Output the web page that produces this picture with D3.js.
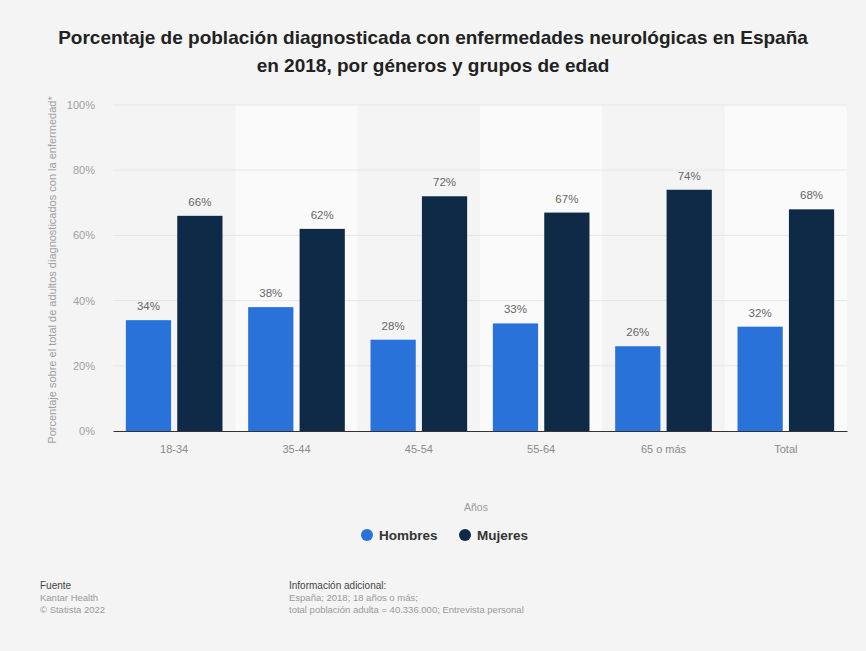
<!DOCTYPE html>
<html>
<head>
<meta charset="utf-8">
<script src="https://cdn.jsdelivr.net/npm/d3@7"></script>
<style>
  body { margin: 0; background: #f4f4f4; }
  svg { display: block; font-family: "Liberation Sans", Arial, sans-serif; }
</style>
</head>
<body>
<div id="chart"></div>
<script>
const grupos = ["18-34", "35-44", "45-54", "55-64", "65 o más", "Total"];
const hombres = [34, 38, 28, 33, 26, 32];
const mujeres = [66, 62, 72, 67, 74, 68];
const series = ["Hombres", "Mujeres"];
const yTicks = [0, 20, 40, 60, 80, 100];

const W = 866, H = 651;
const colors = { Hombres: "#2872d9", Mujeres: "#0f2a46" };
const m = { left: 113, right: 19, top: 105, bottom: 220 };

const svg = d3.select("#chart").append("svg")
    .attr("width", W)
    .attr("height", H);

svg.append("rect")
    .attr("width", W)
    .attr("height", H)
    .attr("fill", "#f4f4f4");

const x = d3.scaleBand()
    .domain(grupos)
    .range([m.left, W - m.right]);

const x1 = d3.scaleBand()
    .domain(series)
    .range([0, x.bandwidth()])
    .paddingOuter(0.25)
    .paddingInner(0.12);

const y = d3.scaleLinear()
    .domain([0, 100])
    .range([H - m.bottom, m.top]);

// alternating column bands
svg.append("g")
    .selectAll("rect")
    .data(grupos.filter((d, i) => i % 2 == 1))
    .enter()
    .append("rect")
    .attr("x", d => x(d))
    .attr("y", y(100))
    .attr("width", x.bandwidth())
    .attr("height", y(0) - y(100))
    .attr("fill", "#fafafa");

// gridlines
svg.append("g")
    .selectAll("line")
    .data(yTicks.slice(1))
    .enter()
    .append("line")
    .attr("x1", m.left)
    .attr("x2", W - m.right)
    .attr("y1", d => y(d))
    .attr("y2", d => y(d))
    .attr("stroke", "#e6e6e6")
    .attr("stroke-width", 1);

// y axis labels
const yAxis = svg.append("g")
    .attr("transform", `translate(${m.left - 15},0)`)
    .call(d3.axisLeft(y).tickValues(yTicks).tickFormat(d => d + "%").tickSize(0));
yAxis.select(".domain").remove();
yAxis.selectAll("text")
    .attr("fill", "#a0a0a0")
    .style("font-size", "11px");

// y axis title
svg.append("text")
    .attr("transform", `translate(56,${(y(0) + y(100)) / 2 + 2}) rotate(-90)`)
    .attr("text-anchor", "middle")
    .attr("fill", "#a0a0a0")
    .style("font-size", "11px")
    .text("Porcentaje sobre el total de adultos diagnosticados con la enfermedad*");

// bars
const rows = grupos.map((g, i) => ({ grupo: g, Hombres: hombres[i], Mujeres: mujeres[i] }));

const groups = svg.append("g")
    .selectAll("g")
    .data(rows)
    .enter()
    .append("g")
    .attr("transform", d => `translate(${x(d.grupo)},0)`);

groups.selectAll("rect")
    .data(d => series.map(s => ({ key: s, value: d[s] })))
    .enter()
    .append("rect")
    .attr("x", d => x1(d.key))
    .attr("y", d => y(d.value))
    .attr("width", x1.bandwidth())
    .attr("height", d => y(0) - y(d.value))
    .attr("fill", d => colors[d.key]);

groups.selectAll("text")
    .data(d => series.map(s => ({ key: s, value: d[s] })))
    .enter()
    .append("text")
    .attr("x", d => x1(d.key) + x1.bandwidth() / 2)
    .attr("y", d => y(d.value) - 10)
    .attr("text-anchor", "middle")
    .attr("fill", "#666")
    .style("font-size", "11.5px")
    .text(d => d.value + "%");

// x axis
const xAxis = svg.append("g")
    .attr("transform", `translate(0,${y(0)})`)
    .call(d3.axisBottom(x).tickSize(0).tickPadding(14));
xAxis.select(".domain")
    .attr("stroke", "#333")
    .attr("stroke-width", 1);
xAxis.selectAll("text")
    .attr("fill", "#8a8a8a")
    .style("font-size", "11px");

// title
const title = svg.append("text")
    .attr("text-anchor", "middle")
    .attr("fill", "#222")
    .style("font-size", "19px")
    .style("font-weight", "bold");
title.append("tspan").attr("x", W / 2).attr("y", 44)
    .text("Porcentaje de población diagnosticada con enfermedades neurológicas en España");
title.append("tspan").attr("x", W / 2).attr("y", 72)
    .text("en 2018, por géneros y grupos de edad");

// x title
svg.append("text")
    .attr("x", 476)
    .attr("y", 511)
    .attr("text-anchor", "middle")
    .attr("fill", "#9a9a9a")
    .style("font-size", "10.5px")
    .text("Años");

// legend
const legendX = [367, 465];
const legend = svg.append("g")
    .selectAll("g")
    .data(series)
    .enter()
    .append("g")
    .attr("transform", (d, i) => `translate(${legendX[i]},535)`);
legend.append("circle")
    .attr("r", 6)
    .attr("fill", d => colors[d]);
legend.append("text")
    .attr("x", 12)
    .attr("y", 5)
    .attr("fill", "#333")
    .style("font-size", "13.5px")
    .style("font-weight", "bold")
    .text(d => d);

// footer
const footL = ["Kantar Health", "© Statista 2022"];
const footR = ["España; 2018; 18 años o más;", "total población adulta = 40.336.000; Entrevista personal"];

svg.append("text")
    .attr("x", 40).attr("y", 589)
    .attr("fill", "#444")
    .style("font-size", "10px")
    .text("Fuente");
svg.append("g").selectAll("text")
    .data(footL)
    .enter()
    .append("text")
    .attr("x", 40)
    .attr("y", (d, i) => 601 + i * 12)
    .attr("fill", "#999")
    .style("font-size", "9.5px")
    .text(d => d);

svg.append("text")
    .attr("x", 289).attr("y", 589)
    .attr("fill", "#444")
    .style("font-size", "10px")
    .text("Información adicional:");
svg.append("g").selectAll("text")
    .data(footR)
    .enter()
    .append("text")
    .attr("x", 289)
    .attr("y", (d, i) => 601 + i * 12)
    .attr("fill", "#999")
    .style("font-size", "9.5px")
    .text(d => d);
</script>
</body>
</html>
